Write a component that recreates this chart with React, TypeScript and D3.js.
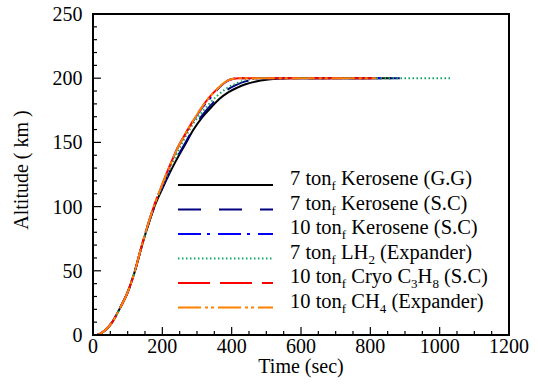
import React from "react";
import * as d3 from "d3";

// ---- data ----
const xTicks = [0, 200, 400, 600, 800, 1000, 1200];
const yTicks = [0, 50, 100, 150, 200, 250];

const tBlack = [0, 10, 20, 34, 53, 77, 101, 120, 139, 159, 178, 200, 220, 240, 265, 290, 315, 340, 365, 390, 415, 440, 470, 500, 530, 560, 600, 700, 860];
const aBlack = [0, 0, 0.8, 3.5, 9, 20.5, 34, 49, 67.5, 85.5, 100.5, 114, 125.5, 136, 148, 160, 169.5, 177, 184, 189, 192.5, 195.3, 197.5, 198.8, 199.5, 199.9, 200, 200, 200];

const tNavy = [0, 10, 20, 34, 53, 77, 101, 120, 139, 159, 178, 200, 220, 240, 265, 290, 315, 340, 365, 390, 415, 440, 470, 500, 530, 600, 700, 885];
const aNavy = [0, 0, 0.8, 3.5, 9, 20.5, 34, 49, 67.5, 85.5, 100.5, 114.5, 126.5, 137, 149, 161, 171, 179, 186, 191.5, 195, 197.5, 199, 199.8, 200, 200, 200, 200];

const tBlue = [0, 10, 20, 34, 53, 77, 101, 120, 139, 159, 178, 200, 220, 240, 265, 290, 315, 340, 360, 380, 395, 410, 430, 500, 600, 700, 833];
const aBlue = [0, 0, 0.8, 3.5, 9, 20.5, 34, 49, 68, 86.5, 102, 117, 130.5, 143.5, 156, 167, 177, 185, 191.5, 196.5, 198.8, 199.8, 200, 200, 200, 200, 200];

const tGreen = [0, 10, 20, 34, 53, 77, 101, 120, 139, 159, 178, 200, 220, 240, 260, 290, 310, 335, 357, 385, 414, 440, 470, 500, 600, 800, 1030];
const aGreen = [0, 0, 0.8, 3.5, 9, 20.5, 34, 49, 68, 86, 101.5, 116, 128, 140, 151, 165, 172, 180, 186, 192, 196, 198.5, 199.7, 200, 200, 200, 200];

const tRed = [0, 10, 20, 34, 53, 77, 101, 120, 139, 159, 178, 200, 220, 241, 265, 289, 313, 337, 360, 376, 390, 405, 420, 500, 600, 700, 805];
const aRed = [0, 0, 0.8, 3.5, 9, 20.5, 34, 49, 68, 86.5, 102, 117.5, 131, 144, 156, 167, 177, 185.6, 192, 196, 198.3, 199.5, 200, 200, 200, 200, 200];

const tOrange = [0, 10, 20, 34, 53, 77, 101, 120, 139, 159, 178, 200, 220, 241, 265, 289, 313, 337, 360, 376, 390, 405, 420, 500, 600, 700, 818];
const aOrange = [0, 0, 0.8, 3.5, 9, 20.5, 34, 49, 68, 86.5, 102, 117.5, 131, 144, 156, 167, 177, 185.6, 192, 196, 198.3, 199.5, 200, 200, 200, 200, 200];

type Seg = { t: string; sub?: boolean };
const series = [
  { t: tBlack, a: aBlack, color: "#000000", dash: "", label: [{ t: "7 ton" }, { t: "f", sub: true }, { t: " Kerosene (G.G)" }] as Seg[] },
  { t: tNavy, a: aNavy, color: "#000080", dash: "23,18", label: [{ t: "7 ton" }, { t: "f", sub: true }, { t: " Kerosene (S.C)" }] as Seg[] },
  { t: tBlue, a: aBlue, color: "#0000ff", dash: "23,6,3,8", label: [{ t: "10 ton" }, { t: "f", sub: true }, { t: " Kerosene (S.C)" }] as Seg[] },
  { t: tGreen, a: aGreen, color: "#10a860", dash: "1.5,2.5", label: [{ t: "7 ton" }, { t: "f", sub: true }, { t: " LH" }, { t: "2", sub: true }, { t: " (Expander)" }] as Seg[] },
  { t: tRed, a: aRed, color: "#ff0000", dash: "32,10", label: [{ t: "10 ton" }, { t: "f", sub: true }, { t: " Cryo C" }, { t: "3", sub: true }, { t: "H" }, { t: "8", sub: true }, { t: " (S.C)" }] as Seg[] },
  { t: tOrange, a: aOrange, color: "#ff8000", dash: "23,4,3,3,3,4", label: [{ t: "10 ton" }, { t: "f", sub: true }, { t: " CH" }, { t: "4", sub: true }, { t: " (Expander)" }] as Seg[] },
];

const FONT = "'Liberation Serif', 'Times New Roman', Times, serif";

export default function App() {
  const W = 538, H = 384;
  const left = 93, right = 509, top = 14, bottom = 335;
  const x = d3.scaleLinear().domain([0, 1200]).range([left, right]);
  const y = d3.scaleLinear().domain([0, 250]).range([bottom, top]);
  const ts = { fontFamily: FONT, fontSize: "20px" } as React.CSSProperties;
  const lts = { fontFamily: FONT, fontSize: "20.5px" } as React.CSSProperties;

  const line = d3
    .line<[number, number]>()
    .x((d) => x(d[0]))
    .y((d) => y(d[1]))
    .curve(d3.curveMonotoneX);

  const xMinor = d3.range(0, 1201, 50);
  const yMinor = d3.range(0, 251, 10);

  const legX1 = 178, legX2 = 273, legTextX = 290, legY0 = 185, legDy = 24.5;

  return (
    <svg width={W} height={H} style={{ position: "absolute", left: 0, top: 0, background: "#fff" }}>
      <defs>
        <clipPath id="clip">
          <rect x={left} y={top} width={right - left} height={bottom - top} />
        </clipPath>
      </defs>
      <rect x={0} y={0} width={W} height={H} fill="#fff" />
      {/* curves */}
      <g clipPath="url(#clip)">
        {series.map((s, i) => (
          <path
            key={i}
            d={line(s.t.map((tt, j) => [tt, s.a[j]] as [number, number])) || ""}
            fill="none"
            stroke={s.color}
            strokeWidth={2}
            strokeDasharray={s.dash || undefined}
          />
        ))}
      </g>
      {/* ticks */}
      {xMinor.map((v) => {
        const major = v % 200 === 0;
        return <line key={"xt" + v} x1={x(v)} x2={x(v)} y1={bottom} y2={bottom - (major ? 8 : 4)} stroke="#000" strokeWidth={1.2} />;
      })}
      {yMinor.map((v) => {
        const major = v % 50 === 0;
        return <line key={"yt" + v} x1={left} x2={left + (major ? 8 : 4)} y1={y(v)} y2={y(v)} stroke="#000" strokeWidth={1.2} />;
      })}
      {/* frame */}
      <rect x={left} y={top} width={right - left} height={bottom - top} fill="none" stroke="#000" strokeWidth={2} />
      {/* tick labels */}
      {xTicks.map((v) => (
        <text key={"xl" + v} x={x(v)} y={353} textAnchor="middle" style={ts} fill="#000">
          {v}
        </text>
      ))}
      {yTicks.map((v) => (
        <text key={"yl" + v} x={82.5} y={y(v)} dy="0.35em" textAnchor="end" style={ts} fill="#000">
          {v}
        </text>
      ))}
      {/* axis titles */}
      <text x={(left + right) / 2} y={373} textAnchor="middle" style={ts} fill="#000">
        Time (sec)
      </text>
      <text transform={`translate(28,170) rotate(-90)`} textAnchor="middle" style={ts} fill="#000">
        Altitude ( km )
      </text>
      {/* legend */}
      {series.map((s, i) => {
        const ly = legY0 + i * legDy;
        return (
          <g key={"lg" + i}>
            <line x1={legX1} x2={legX2} y1={ly} y2={ly} stroke={s.color} strokeWidth={2} strokeDasharray={s.dash || undefined} />
            <text x={legTextX} y={ly} dy="0.35em" style={lts} fill="#000">
              {s.label.map((seg, k) =>
                seg.sub ? (
                  <tspan key={k} style={{ fontSize: "13px" }} dy={5}>
                    {seg.t}
                  </tspan>
                ) : (
                  <tspan key={k} dy={k > 0 && s.label[k - 1].sub ? -5 : 0}>
                    {seg.t}
                  </tspan>
                )
              )}
            </text>
          </g>
        );
      })}
    </svg>
  );
}
